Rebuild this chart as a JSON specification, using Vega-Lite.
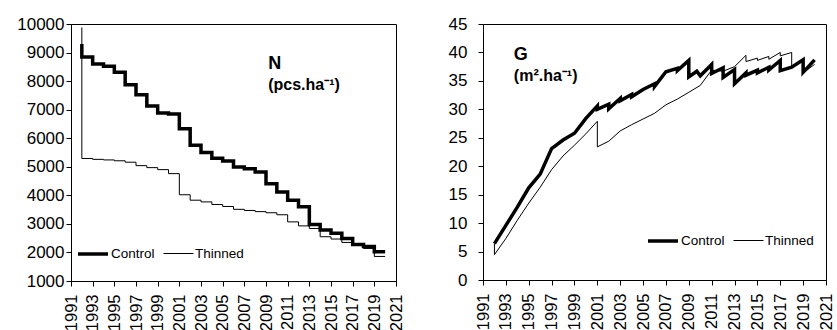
{
  "$schema": "https://vega.github.io/schema/vega-lite/v6.json",
  "background": "white",
  "padding": {"left": 16, "top": 14, "right": 0, "bottom": 0},
  "spacing": 42,
  "config": {
    "font": "Liberation Sans",
    "view": {"stroke": "#000", "strokeWidth": 1},
    "axis": {"grid": false, "domainColor": "#000", "tickColor": "#000", "labelColor": "#000", "labelFont": "Liberation Sans", "labelFontSize": 17, "tickSize": 5, "title": null, "labelOverlap": false, "labelFlush": false, "labelBound": false, "tickCount": 100},
    "legend": {"symbolType": "stroke", "symbolStrokeColor": "#000", "symbolSize": 900, "labelFont": "Liberation Sans", "labelFontSize": 13.5, "labelColor": "#000", "labelOffset": 1, "columnPadding": 6, "direction": "horizontal", "orient": "none", "title": null, "padding": 0}
  },
  "resolve": {"scale": {"strokeWidth": "independent"}, "legend": {"strokeWidth": "independent"}},
  "datasets": {
    "N": [
      {"series": "Control", "i": 0, "t": 1992, "v": 9300},
      {"series": "Control", "i": 1, "t": 1992, "v": 8840},
      {"series": "Control", "i": 2, "t": 1993, "v": 8600},
      {"series": "Control", "i": 3, "t": 1994, "v": 8520},
      {"series": "Control", "i": 4, "t": 1995, "v": 8310},
      {"series": "Control", "i": 5, "t": 1996, "v": 7870},
      {"series": "Control", "i": 6, "t": 1997, "v": 7520},
      {"series": "Control", "i": 7, "t": 1998, "v": 7130},
      {"series": "Control", "i": 8, "t": 1999, "v": 6880},
      {"series": "Control", "i": 9, "t": 2000, "v": 6850},
      {"series": "Control", "i": 10, "t": 2001, "v": 6330},
      {"series": "Control", "i": 11, "t": 2002, "v": 5750},
      {"series": "Control", "i": 12, "t": 2003, "v": 5500},
      {"series": "Control", "i": 13, "t": 2004, "v": 5300},
      {"series": "Control", "i": 14, "t": 2005, "v": 5200},
      {"series": "Control", "i": 15, "t": 2006, "v": 4990},
      {"series": "Control", "i": 16, "t": 2007, "v": 4930},
      {"series": "Control", "i": 17, "t": 2008, "v": 4820},
      {"series": "Control", "i": 18, "t": 2009, "v": 4410},
      {"series": "Control", "i": 19, "t": 2010, "v": 4120},
      {"series": "Control", "i": 20, "t": 2011, "v": 3830},
      {"series": "Control", "i": 21, "t": 2012, "v": 3600},
      {"series": "Control", "i": 22, "t": 2013, "v": 2980},
      {"series": "Control", "i": 23, "t": 2014, "v": 2790},
      {"series": "Control", "i": 24, "t": 2015, "v": 2670},
      {"series": "Control", "i": 25, "t": 2016, "v": 2490},
      {"series": "Control", "i": 26, "t": 2017, "v": 2280},
      {"series": "Control", "i": 27, "t": 2018, "v": 2210},
      {"series": "Control", "i": 28, "t": 2019, "v": 2020},
      {"series": "Control", "i": 29, "t": 2020, "v": 2020},
      {"series": "Thinned", "i": 0, "t": 1992, "v": 9880},
      {"series": "Thinned", "i": 1, "t": 1992, "v": 5290},
      {"series": "Thinned", "i": 2, "t": 1993, "v": 5260},
      {"series": "Thinned", "i": 3, "t": 1994, "v": 5240},
      {"series": "Thinned", "i": 4, "t": 1995, "v": 5210},
      {"series": "Thinned", "i": 5, "t": 1996, "v": 5160},
      {"series": "Thinned", "i": 6, "t": 1997, "v": 5040},
      {"series": "Thinned", "i": 7, "t": 1998, "v": 4970},
      {"series": "Thinned", "i": 8, "t": 1999, "v": 4900},
      {"series": "Thinned", "i": 9, "t": 2000, "v": 4760},
      {"series": "Thinned", "i": 10, "t": 2001, "v": 4020},
      {"series": "Thinned", "i": 11, "t": 2002, "v": 3830},
      {"series": "Thinned", "i": 12, "t": 2003, "v": 3770},
      {"series": "Thinned", "i": 13, "t": 2004, "v": 3680},
      {"series": "Thinned", "i": 14, "t": 2005, "v": 3610},
      {"series": "Thinned", "i": 15, "t": 2006, "v": 3510},
      {"series": "Thinned", "i": 16, "t": 2007, "v": 3470},
      {"series": "Thinned", "i": 17, "t": 2008, "v": 3430},
      {"series": "Thinned", "i": 18, "t": 2009, "v": 3390},
      {"series": "Thinned", "i": 19, "t": 2010, "v": 3320},
      {"series": "Thinned", "i": 20, "t": 2011, "v": 3070},
      {"series": "Thinned", "i": 21, "t": 2012, "v": 2930},
      {"series": "Thinned", "i": 22, "t": 2013, "v": 2840},
      {"series": "Thinned", "i": 23, "t": 2014, "v": 2550},
      {"series": "Thinned", "i": 24, "t": 2015, "v": 2470},
      {"series": "Thinned", "i": 25, "t": 2016, "v": 2350},
      {"series": "Thinned", "i": 26, "t": 2017, "v": 2260},
      {"series": "Thinned", "i": 27, "t": 2018, "v": 2140},
      {"series": "Thinned", "i": 28, "t": 2019, "v": 1860},
      {"series": "Thinned", "i": 29, "t": 2020, "v": 1860}
    ],
    "G": [
      {"series": "Control", "i": 0, "t": 1992, "v": 6.4},
      {"series": "Control", "i": 1, "t": 1993, "v": 9.6},
      {"series": "Control", "i": 2, "t": 1994, "v": 12.8},
      {"series": "Control", "i": 3, "t": 1995, "v": 16.2},
      {"series": "Control", "i": 4, "t": 1996, "v": 18.6},
      {"series": "Control", "i": 5, "t": 1997, "v": 23.1},
      {"series": "Control", "i": 6, "t": 1998, "v": 24.6},
      {"series": "Control", "i": 7, "t": 1999, "v": 25.8},
      {"series": "Control", "i": 8, "t": 2000, "v": 28.4},
      {"series": "Control", "i": 9, "t": 2001, "v": 30.6},
      {"series": "Control", "i": 10, "t": 2001, "v": 30.0},
      {"series": "Control", "i": 11, "t": 2002, "v": 30.9},
      {"series": "Control", "i": 12, "t": 2002, "v": 30.1},
      {"series": "Control", "i": 13, "t": 2003, "v": 31.9},
      {"series": "Control", "i": 14, "t": 2003, "v": 31.5},
      {"series": "Control", "i": 15, "t": 2004, "v": 32.6},
      {"series": "Control", "i": 16, "t": 2004, "v": 32.2},
      {"series": "Control", "i": 17, "t": 2005, "v": 33.5},
      {"series": "Control", "i": 18, "t": 2006, "v": 34.5},
      {"series": "Control", "i": 19, "t": 2006, "v": 34.0},
      {"series": "Control", "i": 20, "t": 2007, "v": 36.6},
      {"series": "Control", "i": 21, "t": 2008, "v": 37.2},
      {"series": "Control", "i": 22, "t": 2008, "v": 36.8},
      {"series": "Control", "i": 23, "t": 2009, "v": 38.6},
      {"series": "Control", "i": 24, "t": 2009, "v": 35.7},
      {"series": "Control", "i": 25, "t": 2009.7, "v": 36.7},
      {"series": "Control", "i": 26, "t": 2010, "v": 35.9},
      {"series": "Control", "i": 27, "t": 2011, "v": 37.9},
      {"series": "Control", "i": 28, "t": 2011, "v": 36.3},
      {"series": "Control", "i": 29, "t": 2012, "v": 37.3},
      {"series": "Control", "i": 30, "t": 2012, "v": 35.6},
      {"series": "Control", "i": 31, "t": 2013, "v": 37.0},
      {"series": "Control", "i": 32, "t": 2013, "v": 34.5},
      {"series": "Control", "i": 33, "t": 2014, "v": 36.4},
      {"series": "Control", "i": 34, "t": 2014, "v": 36.0},
      {"series": "Control", "i": 35, "t": 2015, "v": 36.9},
      {"series": "Control", "i": 36, "t": 2015, "v": 36.4},
      {"series": "Control", "i": 37, "t": 2016, "v": 37.4},
      {"series": "Control", "i": 38, "t": 2016, "v": 36.9},
      {"series": "Control", "i": 39, "t": 2017, "v": 38.6},
      {"series": "Control", "i": 40, "t": 2017, "v": 36.8},
      {"series": "Control", "i": 41, "t": 2018, "v": 37.4},
      {"series": "Control", "i": 42, "t": 2019, "v": 38.7},
      {"series": "Control", "i": 43, "t": 2019, "v": 36.5},
      {"series": "Control", "i": 44, "t": 2020, "v": 38.7},
      {"series": "Thinned", "i": 0, "t": 1992, "v": 6.4},
      {"series": "Thinned", "i": 1, "t": 1992, "v": 4.45},
      {"series": "Thinned", "i": 2, "t": 1993, "v": 7.3},
      {"series": "Thinned", "i": 3, "t": 1994, "v": 10.5},
      {"series": "Thinned", "i": 4, "t": 1995, "v": 13.5},
      {"series": "Thinned", "i": 5, "t": 1996, "v": 16.3},
      {"series": "Thinned", "i": 6, "t": 1997, "v": 19.4},
      {"series": "Thinned", "i": 7, "t": 1998, "v": 21.8},
      {"series": "Thinned", "i": 8, "t": 1999, "v": 23.7},
      {"series": "Thinned", "i": 9, "t": 2000, "v": 25.7},
      {"series": "Thinned", "i": 10, "t": 2001, "v": 27.9},
      {"series": "Thinned", "i": 11, "t": 2001, "v": 23.4},
      {"series": "Thinned", "i": 12, "t": 2002, "v": 24.4},
      {"series": "Thinned", "i": 13, "t": 2003, "v": 26.2},
      {"series": "Thinned", "i": 14, "t": 2004, "v": 27.3},
      {"series": "Thinned", "i": 15, "t": 2005, "v": 28.3},
      {"series": "Thinned", "i": 16, "t": 2006, "v": 29.3},
      {"series": "Thinned", "i": 17, "t": 2007, "v": 30.8},
      {"series": "Thinned", "i": 18, "t": 2008, "v": 31.8},
      {"series": "Thinned", "i": 19, "t": 2009, "v": 33.0},
      {"series": "Thinned", "i": 20, "t": 2010, "v": 34.2},
      {"series": "Thinned", "i": 21, "t": 2011, "v": 36.9},
      {"series": "Thinned", "i": 22, "t": 2012, "v": 36.7},
      {"series": "Thinned", "i": 23, "t": 2013, "v": 37.5},
      {"series": "Thinned", "i": 24, "t": 2014, "v": 39.5},
      {"series": "Thinned", "i": 25, "t": 2014, "v": 38.4},
      {"series": "Thinned", "i": 26, "t": 2015, "v": 39.0},
      {"series": "Thinned", "i": 27, "t": 2015, "v": 38.6},
      {"series": "Thinned", "i": 28, "t": 2016, "v": 39.3},
      {"series": "Thinned", "i": 29, "t": 2016, "v": 38.8},
      {"series": "Thinned", "i": 30, "t": 2017, "v": 40.0},
      {"series": "Thinned", "i": 31, "t": 2017, "v": 39.4},
      {"series": "Thinned", "i": 32, "t": 2018, "v": 40.0},
      {"series": "Thinned", "i": 33, "t": 2018, "v": 37.5},
      {"series": "Thinned", "i": 34, "t": 2019, "v": 38.5},
      {"series": "Thinned", "i": 35, "t": 2019, "v": 36.4},
      {"series": "Thinned", "i": 36, "t": 2020, "v": 37.9}
    ],
    "NLabel": [
      {"t": 2009.2, "v": 8418, "label": "N", "size": 18},
      {"t": 2009.2, "v": 7684, "label": "(pcs.ha⁻¹)", "size": 16}
    ],
    "GLabel": [
      {"t": 1993.7, "v": 38.66, "label": "G", "size": 18},
      {"t": 1993.7, "v": 34.97, "label": "(m².ha⁻¹)", "size": 16}
    ]
  },
  "hconcat": [
    {
      "width": 325,
      "height": 257,
      "layer": [
        {
          "data": {"name": "N"},
          "mark": {"type": "line", "interpolate": "step-after", "color": "#000"},
          "encoding": {
            "x": {"field": "t", "type": "quantitative", "scale": {"domain": [1991, 2021], "nice": false, "zero": false},
                  "axis": {"values": [1991,1993,1995,1997,1999,2001,2003,2005,2007,2009,2011,2013,2015,2017,2019,2021], "format": "d", "labelAngle": 270, "labelPadding": 8, "labelFontSize": 16.5, "tickCount": 100}},
            "y": {"field": "v", "type": "quantitative", "scale": {"domain": [1000, 10000], "nice": false, "zero": false},
                  "axis": {"values": [1000,2000,3000,4000,5000,6000,7000,8000,9000,10000], "format": "d", "labelPadding": 2, "tickCount": 100}},
            "order": {"field": "i", "type": "quantitative"},
            "strokeWidth": {"field": "series", "type": "nominal", "scale": {"domain": ["Control", "Thinned"], "range": [3.5, 1]},
                            "legend": {"legendX": 5, "legendY": 213}}
          }
        },
        {
          "data": {"name": "NLabel"},
          "mark": {"type": "text", "align": "left", "baseline": "alphabetic", "fontWeight": "bold", "color": "#000", "font": "Liberation Sans"},
          "encoding": {
            "x": {"field": "t", "type": "quantitative"},
            "y": {"field": "v", "type": "quantitative"},
            "text": {"field": "label"},
            "size": {"field": "size", "type": "quantitative", "scale": null}
          }
        }
      ]
    },
    {
      "width": 343,
      "height": 256,
      "layer": [
        {
          "data": {"name": "G"},
          "mark": {"type": "line", "color": "#000"},
          "encoding": {
            "x": {"field": "t", "type": "quantitative", "scale": {"domain": [1991, 2021], "nice": false, "zero": false},
                  "axis": {"values": [1991,1993,1995,1997,1999,2001,2003,2005,2007,2009,2011,2013,2015,2017,2019,2021], "format": "d", "labelAngle": 270, "labelPadding": 8, "labelFontSize": 16.5, "tickCount": 100}},
            "y": {"field": "v", "type": "quantitative", "scale": {"domain": [0, 45], "nice": false},
                  "axis": {"values": [0,5,10,15,20,25,30,35,40,45], "format": "d", "labelPadding": 11, "tickCount": 100}},
            "order": {"field": "i", "type": "quantitative"},
            "strokeWidth": {"field": "series", "type": "nominal", "scale": {"domain": ["Control", "Thinned"], "range": [3.5, 1]},
                            "legend": {"legendX": 163, "legendY": 200}}
          }
        },
        {
          "data": {"name": "GLabel"},
          "mark": {"type": "text", "align": "left", "baseline": "alphabetic", "fontWeight": "bold", "color": "#000", "font": "Liberation Sans"},
          "encoding": {
            "x": {"field": "t", "type": "quantitative"},
            "y": {"field": "v", "type": "quantitative"},
            "text": {"field": "label"},
            "size": {"field": "size", "type": "quantitative", "scale": null}
          }
        }
      ]
    }
  ]
}
